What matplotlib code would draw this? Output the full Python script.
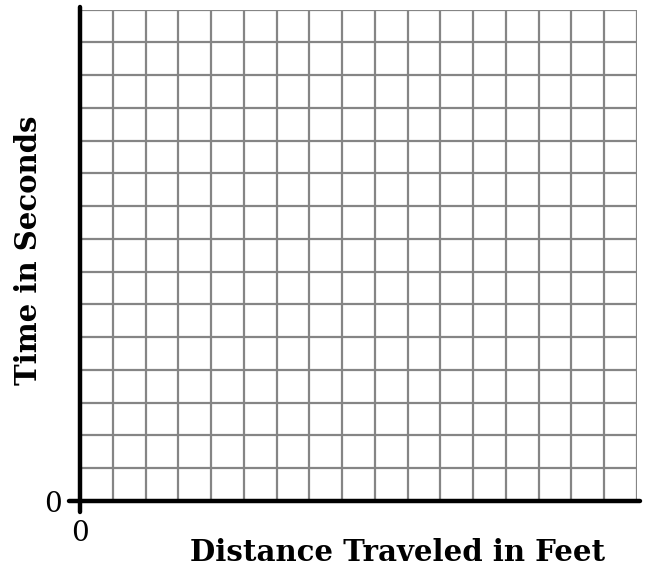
import matplotlib
matplotlib.use("Agg")
import matplotlib.pyplot as plt
import numpy as np

# Data / layout description
x_label = "Distance Traveled in Feet"
y_label = "Time in Seconds"
x_tick_values = [0]
y_tick_values = [0]
x_tick_labels = ["0"]
y_tick_labels = ["0"]
n_cols = 17
n_rows = 15

fig = plt.figure(figsize=(6.49, 5.68), dpi=100)
W, H = 649, 568
left, right, bottom, top = 80, 637, 501, 9.5
ax = fig.add_axes([left / W, (H - bottom) / H, (right - left) / W, (bottom - top) / H])

ax.set_xlim(0, n_cols)
ax.set_ylim(0, n_rows)

ax.set_xticks(np.arange(0, n_cols + 1), minor=True)
ax.set_yticks(np.arange(0, n_rows + 1), minor=True)
ax.set_xticks(x_tick_values)
ax.set_yticks(y_tick_values)
ax.set_xticklabels(x_tick_labels, family="DejaVu Serif", fontsize=20)
ax.set_yticklabels(y_tick_labels, family="DejaVu Serif", fontsize=20)
ax.tick_params(which="minor", length=0)
ax.tick_params(axis="x", which="major", length=0, pad=14)
ax.tick_params(axis="y", which="major", length=0, pad=13)

ax.grid(which="minor", color="#858585", linewidth=1.6, zorder=0)
ax.set_axisbelow(True)

for s in ["top", "right"]:
    ax.spines[s].set_visible(False)
for s in ["left", "bottom"]:
    ax.spines[s].set_linewidth(3.2)
    ax.spines[s].set_color("black")
    ax.spines[s].set_capstyle("round")
# extend the axis lines slightly past the origin, as in the reference
ext = 11 / ((right - left) / n_cols)
ax.spines["left"].set_bounds(-ext, n_rows + 0.09)
ax.spines["bottom"].set_bounds(-ext, n_cols + 0.09)

fig.text(398 / W, 1 - 561 / H, x_label, family="DejaVu Serif", fontweight="bold",
         fontsize=21, ha="center", va="baseline")
fig.text(29 / W, 1 - 250 / H, y_label, family="DejaVu Serif", fontweight="bold",
         fontsize=21, ha="center", va="center", rotation=90)

fig.savefig("out.png", dpi=100)
